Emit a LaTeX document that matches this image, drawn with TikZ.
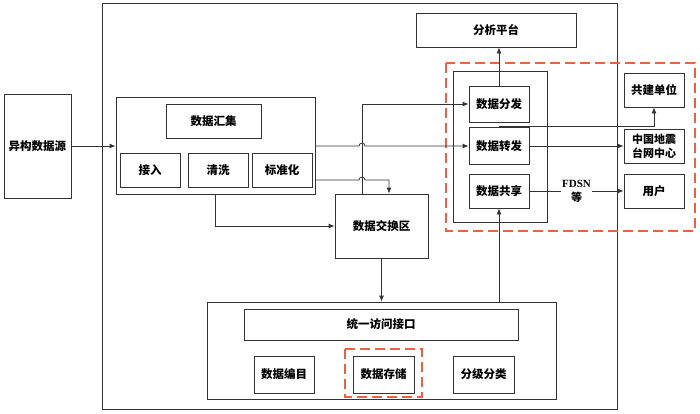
\documentclass[tikz,border=0pt]{standalone}
\usepackage{fontspec}
\newfontfamily\cjk{Noto Sans CJK SC}
\newfontfamily\latin{Liberation Serif}
\usetikzlibrary{arrows.meta}
\definecolor{dashred}{RGB}{232,98,72}
\tikzset{
  box/.style={draw=black!80, line width=0.8pt, inner sep=0pt, align=center,
    font=\cjk\bfseries\fontsize{11.5}{14}\selectfont},
  sz/.style 2 args={minimum width=#1, minimum height=#2},
  line/.style={draw=black!80, line width=0.8pt},
  arr/.style={line, -{Latex[length=6pt,width=5pt]}},
  reddash/.style={draw=dashred, line width=1.1pt, dash pattern=on 10pt off 5pt}
}
\begin{document}
\begin{tikzpicture}[x=1pt,y=-1pt]
\useasboundingbox (0,0) rectangle (700,413);
% frames
\draw[line] (102,3) rectangle (617,409);
\draw[reddash] (446,63) rectangle (695,231);
\draw[reddash] (345,349) rectangle (422,397);
% source and collection
\node[box, sz={67}{104}] (src) at (37.5,146) {异构数据源};
\node[box, sz={199}{97}] (agg) at (215.5,146) {};
\node[box, sz={95}{34}] (hz) at (213.5,121) {数据汇集};
\node[box, sz={60}{34}] (jr) at (150,170) {接入};
\node[box, sz={60}{34}] (qx) at (218,170) {清洗};
\node[box, sz={60}{34}] (bzh) at (282,170) {标准化};
\node[box, sz={93}{64}] (jhq) at (381.5,226) {数据交换区};
% platform
\node[box, sz={160}{34}] (fx) at (496,30) {分析平台};
\node[box, sz={94}{151}] (plat) at (500,146.5) {};
\node[box, sz={60}{36}] (ff) at (499,104) {数据分发};
\node[box, sz={60}{37}] (zf) at (499,146) {数据转发};
\node[box, sz={60}{34}] (gx) at (499,191) {数据共享};
\node[box, sz={60}{34}] (gj) at (654,90) {共建单位};
\node[box, sz={60}{34}, font=\cjk\bfseries\fontsize{11}{14}\selectfont] (tw) at (654,146) {中国地震\\台网中心};
\node[box, sz={60}{34}] (yh) at (654,191) {用户};
% storage
\node[box, sz={349}{97}] (bot) at (381.5,350.5) {};
\node[box, sz={274}{31}] (ty) at (381,324.5) {统一访问接口};
\node[box, sz={60}{37}] (bm) at (284,374.5) {数据编目};
\node[box, sz={61}{37}] (cc) at (383.5,374.5) {数据存储};
\node[box, sz={61}{37}] (fl) at (483.5,374.5) {分级分类};
% connectors
\foreach \from/\to in {src/agg,zf/tw}
\draw[arr] (\from) -- (\to);
\draw[arr] (agg.south) |- (jhq.west);
\draw[arr] (jhq.north -| 362,0) |- (ff.west);
\draw[arr] (agg.east) -- (359,146) arc[start angle=180, end angle=0, radius=3pt] -- (zf.west);
\draw[arr] (agg.east |- 0,180) -- (359,180) arc[start angle=180, end angle=0, radius=3pt] -| (jhq.north -| 389,0);
\draw[arr] (ff.north) -- (ff.north |- fx.south);
\draw[arr] (zf.north) -- (499,126) -| (gj.south);
\draw[arr] (gx.east) -- (yh.west)
  node[midway, fill=white, inner sep=1pt, align=center, font=\cjk\bfseries\fontsize{11}{14}\selectfont] (fdsn) {{\latin FDSN}\\等};
\draw[arr] (gx.south |- bot.north) -- (gx.south);
\draw[arr] (jhq.south) -- (jhq.south |- bot.north);
\end{tikzpicture}
\end{document}
